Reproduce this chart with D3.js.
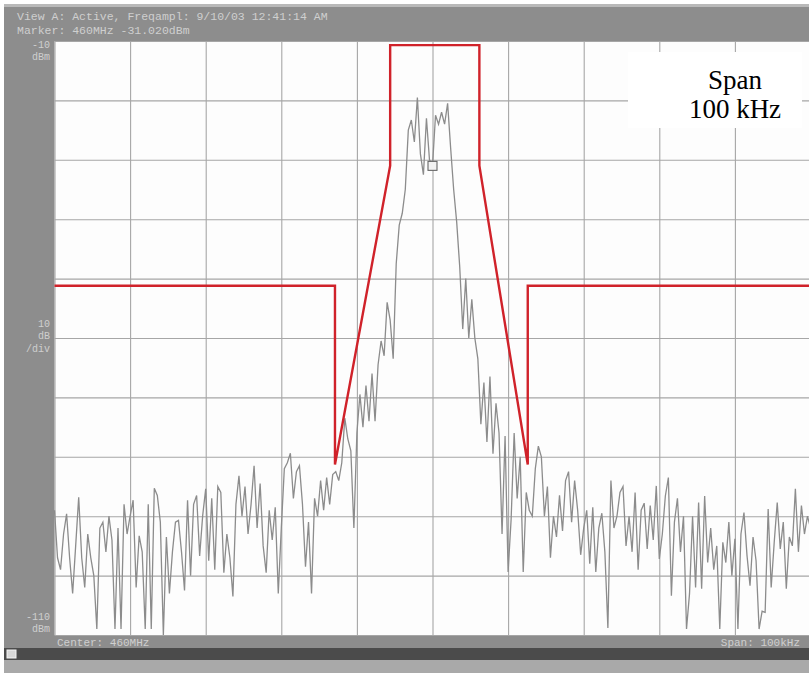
<!DOCTYPE html>
<html>
<head>
<meta charset="utf-8">
<script src="https://cdn.jsdelivr.net/npm/d3@7/dist/d3.min.js"></script>
<style>
  body { margin: 0; background: #ffffff; }
  svg { display: block; }
</style>
</head>
<body>
<script>
// Analyzer settings
const centerMHz = 460;
const spanKHz = 100;
const refLevel = -10;
const bottomLevel = -110;

// Grid ticks (kHz offset from centre, dBm)
const freqTicks = [-50, -40, -30, -20, -10, 0, 10, 20, 30, 40, 50];
const levelTicks = [-10, -20, -30, -40, -50, -60, -70, -80, -90, -100, -110];

// Measured trace, dBm, evenly spaced across the span
const traceLevels = [
  -89, -97, -99, -93, -89.6, -97, -103, -95, -86.8, -97,
  -102, -93, -97, -100, -109, -92, -91, -96, -90, -94,
  -109, -92, -109, -88, -93, -90, -87.3, -102, -93.3, -96,
  -109, -88, -109, -85.3, -86.5, -91, -110, -93.5, -103, -96,
  -91, -90.7, -96, -102.5, -87.3, -100, -88, -86.5, -96.7, -89.9,
  -85.4, -97.5, -87, -99, -85, -86, -99.5, -93, -97, -103.5,
  -88, -83.2, -90, -85, -93, -88, -81.5, -92, -84.5, -95,
  -99.5, -89, -94, -88.5, -103, -92, -82, -81, -79.4, -87,
  -82.5, -81.5, -88, -98.5, -91, -103, -87, -90, -84, -89,
  -83.5, -88, -83, -82.5, -84, -81, -73.5, -77, -79, -92,
  -76, -69.5, -75, -68, -74, -66, -74, -64.5, -60.5, -63,
  -54, -57, -63.5, -47.5, -41, -39, -35, -25, -23.3, -27,
  -19.5, -29, -32.5, -23, -30, -31.02, -22.5, -24, -22, -24,
  -20.5, -28, -35, -40.5, -48, -58.5, -50, -60, -53.5, -60,
  -63.5, -74.5, -67.5, -77.5, -66.5, -79.5, -71, -76, -93, -76.5,
  -99.4, -90.5, -76, -87, -80, -99.4, -86, -89, -90, -82,
  -78.2, -80, -90, -85, -97, -90, -93.5, -86.5, -92.5, -84,
  -82.5, -91, -84, -89, -96.5, -92, -89, -98, -88.5, -99.4,
  -92, -89.5, -96, -108.8, -84, -92, -90, -86, -85, -95,
  -90, -96, -86, -99, -89, -87.8, -95.5, -88.2, -94, -84.9,
  -97.2, -93, -86.6, -83.5, -103.4, -91, -87, -96, -90, -109,
  -103, -90, -102, -87.7, -102.2, -86.6, -97.8, -92, -99, -95,
  -109, -94.4, -97.8, -91, -100, -93.8, -109, -93, -89.4, -96.6,
  -101.7, -93.5, -97.5, -109, -106, -106.2, -88.8, -102, -94.4, -87.7,
  -95.5, -91, -102.2, -93.5, -95, -85.4, -96, -88.2, -93, -90,
  -92
];

// Emission mask corners (kHz offset, dBm)
const maskFreq  = [-50, -12.9, -12.9, -5.6, -5.6, 6.2, 6.2, 12.6, 12.6, 50];
const maskLevel = [-51.2, -51.2, -81.3, -31, -10.7, -10.7, -31, -81.3, -51.2, -51.2];

// Marker
const markerFreq = 0;
const markerLevel = -31.02;

// Screen annotations
const headerLines = [
  "View A: Active, Freqampl: 9/10/03 12:41:14 AM",
  "Marker: 460MHz  -31.020dBm"
];
const footerLeft = "Center: 460MHz";
const footerRight = "Span: 100kHz";
const spanLabel = ["Span", "100 kHz"];

const width = 809, height = 673;
const margin = { left: 54.5, top: 41, right: -1.5, bottom: 38 };
const W = width - margin.left - margin.right;
const H = height - margin.top - margin.bottom;

const svg = d3.select("body").append("svg")
  .attr("width", width).attr("height", height);

// Instrument frame
svg.append("rect").attr("x", 0).attr("y", 0).attr("width", width).attr("height", height).attr("fill", "#ffffff");
svg.append("rect").attr("x", 4).attr("y", 4).attr("width", width - 4).attr("height", 646).attr("fill", "#8d8d8d");
svg.append("rect").attr("x", 4).attr("y", 4).attr("width", width - 4).attr("height", 3).attr("fill", "#b9b9b9");
svg.append("rect").attr("x", 4).attr("y", 648).attr("width", width - 4).attr("height", 12).attr("fill", "#4b4b4b");
svg.append("rect").attr("x", 4).attr("y", 660).attr("width", width - 4).attr("height", 13).attr("fill", "#a9a9a9");
svg.append("rect").attr("x", 7).attr("y", 650).attr("width", 9).attr("height", 8)
  .attr("fill", "#d8d8d8").attr("stroke", "#f4f4f4").attr("stroke-width", 1);

const mono = "'Liberation Mono', 'DejaVu Sans Mono', monospace";
const frameText = "#cfcfcf";

svg.selectAll("text.header").data(headerLines).join("text")
  .attr("class", "header")
  .attr("x", 17).attr("y", (d, i) => 20 + i * 14)
  .attr("font-family", mono).attr("font-size", 11.5)
  .attr("fill", frameText).text(d => d);

const sideLabels = [
  { t: "-10", y: 48 }, { t: "dBm", y: 60 },
  { t: "10", y: 327 }, { t: "dB", y: 339 }, { t: "/div", y: 352 },
  { t: "-110", y: 620 }, { t: "dBm", y: 632 }
];
svg.selectAll("text.side").data(sideLabels).join("text")
  .attr("class", "side")
  .attr("x", 50).attr("y", d => d.y).attr("text-anchor", "end")
  .attr("font-family", mono).attr("font-size", 10)
  .attr("fill", frameText).text(d => d.t);

svg.append("text").attr("x", 57).attr("y", 646)
  .attr("font-family", mono).attr("font-size", 11).attr("fill", frameText).text(footerLeft);
svg.append("text").attr("x", 800).attr("y", 646).attr("text-anchor", "end")
  .attr("font-family", mono).attr("font-size", 11).attr("fill", frameText).text(footerRight);

// Plot area
const g = svg.append("g").attr("transform", `translate(${margin.left},${margin.top})`);
g.append("rect").attr("width", W).attr("height", H).attr("fill", "#fdfdfd");

const x = d3.scaleLinear().domain([-spanKHz / 2, spanKHz / 2]).range([0, W]);
const y = d3.scaleLinear().domain([bottomLevel, refLevel]).range([H, 0]);

const gridX = g.append("g").attr("transform", `translate(0,${H})`)
  .call(d3.axisBottom(x).tickValues(freqTicks).tickSize(-H).tickFormat(""));
const gridY = g.append("g")
  .call(d3.axisLeft(y).tickValues(levelTicks).tickSize(-W).tickFormat(""));
[gridX, gridY].forEach(a => {
  a.select(".domain").remove();
  a.selectAll(".tick line").attr("stroke", "#a6a6a6").attr("stroke-width", 1.1);
});

// Trace
const step = spanKHz / (traceLevels.length - 1);
const traceData = traceLevels.map((v, i) => ({ f: -spanKHz / 2 + i * step, v }));
g.append("path").datum(traceData)
  .attr("fill", "none").attr("stroke", "#8c8c8c").attr("stroke-width", 1.3)
  .attr("d", d3.line().x(d => x(d.f)).y(d => y(d.v)));

// Marker box
g.append("rect")
  .attr("x", x(markerFreq) - 4.5).attr("y", y(markerLevel) - 4.5)
  .attr("width", 9).attr("height", 9)
  .attr("fill", "#f2f2f2").attr("stroke", "#666666").attr("stroke-width", 1.1);

// Mask
const maskData = maskFreq.map((f, i) => ({ f, v: maskLevel[i] }));
g.append("path").datum(maskData)
  .attr("fill", "none").attr("stroke", "#d0222a").attr("stroke-width", 2.4)
  .attr("stroke-linejoin", "miter")
  .attr("d", d3.line().x(d => x(d.f)).y(d => y(d.v)));

// Span caption
svg.append("rect").attr("x", 628).attr("y", 52).attr("width", 174).attr("height", 76).attr("fill", "#ffffff");
svg.selectAll("text.span").data(spanLabel).join("text")
  .attr("class", "span")
  .attr("x", 735).attr("y", (d, i) => 89 + i * 29)
  .attr("text-anchor", "middle")
  .attr("font-family", "'Liberation Serif', 'Times New Roman', serif")
  .attr("font-size", 27).attr("fill", "#000000").text(d => d);
</script>
</body>
</html>
